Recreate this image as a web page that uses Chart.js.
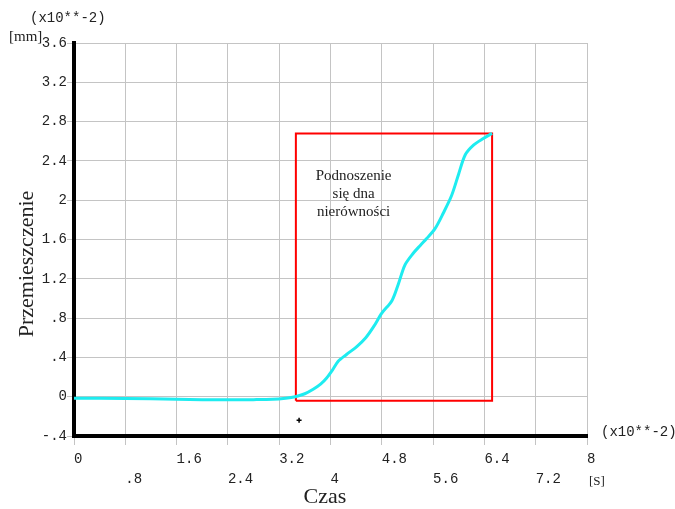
<!DOCTYPE html>
<html>
<head>
<meta charset="utf-8">
<script src="https://cdn.jsdelivr.net/npm/chart.js@4/dist/chart.umd.min.js"></script>
<style>
  body { margin: 0; background: #fff; }
  #wrap { width: 675px; height: 509px; }
</style>
</head>
<body>
<div id="wrap"><canvas id="chart" width="675" height="509"></canvas></div>
<script>
// dane (czas x10^-2 s, przemieszczenie x10^-2 mm)
const czas = [0, 0.8, 1.6, 2.0, 2.4, 2.8, 3.1, 3.3, 3.45, 3.6, 3.73, 3.85, 3.94, 4.03, 4.12, 4.25, 4.41, 4.55, 4.67, 4.8, 4.96, 5.06, 5.16, 5.29, 5.4, 5.5, 5.63, 5.76, 5.89, 6.0, 6.1, 6.23, 6.39, 6.52]
const przemieszczenie = [-0.015, -0.018, -0.026, -0.03, -0.032, -0.03, -0.026, -0.015, 0, 0.03, 0.075, 0.13, 0.19, 0.27, 0.36, 0.43, 0.51, 0.6, 0.71, 0.85, 0.98, 1.15, 1.34, 1.46, 1.54, 1.61, 1.71, 1.87, 2.05, 2.27, 2.46, 2.56, 2.63, 2.68]

// ramka "Podnoszenie sie dna nierownosci"
const ramkaX = [3.46, 6.52, 6.52, 3.46, 3.46]
const ramkaY = [-0.04, -0.04, 2.68, 2.68, -0.04]

// maly znacznik "+"
const znacznikX = [3.51]
const znacznikY = [-0.24]

// podzialki osi
const xTicks = [0, 0.8, 1.6, 2.4, 3.2, 4, 4.8, 5.6, 6.4, 7.2, 8]
const xTickLabels = ['0', '.8', '1.6', '2.4', '3.2', '4', '4.8', '5.6', '6.4', '7.2', '8']
const yTicks = [-0.4, 0, 0.4, 0.8, 1.2, 1.6, 2, 2.4, 2.8, 3.2, 3.6]
const yTickLabels = ['-.4', '0', '.4', '.8', '1.2', '1.6', '2', '2.4', '2.8', '3.2', '3.6']

const opisRamki = ['Podnoszenie', 'się dna', 'nierówności']

function toPoints(xs, ys) {
    return xs.map((x, i) => ({x: x, y: ys[i]}))
}

const mono = 'Liberation Mono, DejaVu Sans Mono, monospace'
const serif = 'Liberation Serif, DejaVu Serif, serif'

// dodatkowe napisy (jednostki, mnozniki, tytuly osi, opis ramki)
const napisy = {
    id: 'napisy',
    afterDraw(chart) {
        const ctx = chart.ctx
        const xs = chart.scales.x, ys = chart.scales.y
        ctx.save()
        ctx.fillStyle = '#222'
        ctx.textBaseline = 'middle'

        ctx.font = '14px ' + mono
        ctx.textAlign = 'left'
        ctx.fillText('(x10**-2)', 30, 18)
        ctx.fillText('(x10**-2)', 601, 432)

        ctx.font = '15px ' + serif
        ctx.fillText('[mm]', 9, 37)
        ctx.font = '13px ' + serif
        ctx.fillText('[S]', 589, 482)

        ctx.font = '22px ' + serif
        ctx.textAlign = 'center'
        ctx.fillText('Czas', 325, 497)
        ctx.save()
        ctx.translate(27, 264)
        ctx.rotate(-Math.PI / 2)
        ctx.fillText('Przemieszczenie', 0, 0)
        ctx.restore()

        ctx.font = '15px ' + serif
        const cx = xs.getPixelForValue(4.36)
        const cy = ys.getPixelForValue(2.25)
        opisRamki.forEach((t, i) => ctx.fillText(t, cx, cy + i * 18))
        ctx.restore()
    }
}

var context = document.getElementById('chart').getContext('2d')
new Chart(context, {
    type: 'scatter',
    data: {
        datasets: [{
            label: 'Przemieszczenie',
            data: toPoints(czas, przemieszczenie),
            showLine: true,
            borderColor: 'rgb(30, 236, 240)',
            borderWidth: 3,
            pointRadius: 0,
            tension: 0.3
        }, {
            label: 'Ramka',
            data: toPoints(ramkaX, ramkaY),
            showLine: true,
            borderColor: '#ff0000',
            borderWidth: 2,
            pointRadius: 0,
            tension: 0
        }, {
            label: 'Znacznik',
            data: toPoints(znacznikX, znacznikY),
            pointStyle: 'cross',
            pointRadius: 2.5,
            borderColor: '#000',
            borderWidth: 1.5
        }]
    },
    options: {
        responsive: false,
        animation: false,
        devicePixelRatio: 1,
        layout: { padding: { left: 0, right: 88, top: 43, bottom: 0 } },
        plugins: {
            legend: { display: false },
            tooltip: { enabled: false }
        },
        scales: {
            x: {
                type: 'linear',
                min: 0,
                max: 8,
                afterBuildTicks: (s) => { s.ticks = xTicks.map(v => ({value: v})) },
                afterFit: (s) => { s.height = 73 },
                border: { color: '#000', width: 4 },
                grid: { color: '#c4c4c4', lineWidth: 1, tickLength: 9, tickColor: '#c4c4c4' },
                ticks: {
                    autoSkip: false,
                    maxRotation: 0,
                    align: 'start',
                    padding: 4,
                    color: '#222',
                    font: { family: mono, size: 14, lineHeight: 1.43 },
                    callback: (v, i) => (i % 2 === 0 ? [xTickLabels[i]] : ['', xTickLabels[i]])
                }
            },
            y: {
                type: 'linear',
                min: -0.4,
                max: 3.6,
                afterBuildTicks: (s) => { s.ticks = yTicks.map(v => ({value: v})) },
                afterFit: (s) => { s.width = 74 },
                border: { color: '#000', width: 4 },
                grid: { color: '#c4c4c4', lineWidth: 1, tickLength: 7, tickColor: '#c4c4c4' },
                ticks: {
                    autoSkip: false,
                    padding: 0,
                    color: '#222',
                    font: { family: mono, size: 14 },
                    callback: (v, i) => yTickLabels[i]
                }
            }
        }
    },
    plugins: [napisy]
})
</script>
</body>
</html>
